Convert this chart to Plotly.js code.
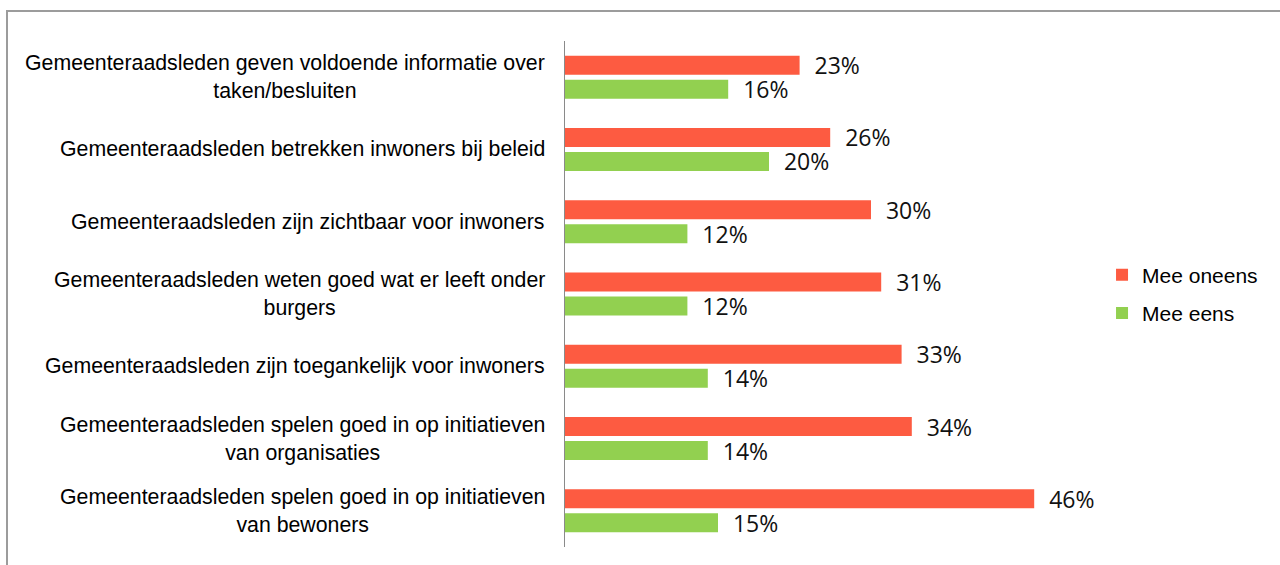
<!DOCTYPE html>
<html>
<head>
<meta charset="utf-8">
<script src="https://cdn.plot.ly/plotly-3.0.1.min.js"></script>
<style>
  html, body { margin: 0; padding: 0; background: #fff; overflow: hidden; }
  #wrap { position: relative; width: 1280px; height: 565px; }
  #chart { width: 1280px; height: 565px; }
  #frame { position: absolute; left: 6px; top: 10px; width: 1400px; height: 700px;
           border: 2px solid #9c9c9c; pointer-events: none; box-sizing: border-box; }
</style>
</head>
<body>
<div id="wrap">
  <div id="chart"></div>
  <div id="frame"></div>
</div>
<script>
// Categories (top to bottom)
const categories = [
  "Gemeenteraadsleden geven voldoende informatie over<br>taken/besluiten",
  "Gemeenteraadsleden betrekken inwoners bij beleid",
  "Gemeenteraadsleden zijn zichtbaar voor inwoners",
  "Gemeenteraadsleden weten goed wat er leeft onder<br>burgers",
  "Gemeenteraadsleden zijn toegankelijk voor inwoners",
  "Gemeenteraadsleden spelen goed in op initiatieven<br>van organisaties",
  "Gemeenteraadsleden spelen goed in op initiatieven<br>van bewoners"
];
const meeOneens = [23, 26, 30, 31, 33, 34, 46];
const meeEens   = [16, 20, 12, 12, 14, 14, 15];
const seriesNames = ["Mee oneens", "Mee eens"];

const NB = "\u00a0\u00a0";
const labelFont = { family: "Open Sans, sans-serif", size: 23, color: "#111" };

const traces = [
  {
    type: "bar", orientation: "h", name: seriesNames[0], legendgroup: "a",
    y: categories, x: meeOneens,
    marker: { color: "#FD5B41" },
    text: meeOneens.map(v => NB + v + "%"),
    textposition: "outside", textfont: labelFont, constraintext: "none",
    cliponaxis: false, hoverinfo: "skip"
  },
  {
    type: "bar", orientation: "h", name: seriesNames[1], legendgroup: "b",
    y: categories, x: meeEens,
    marker: { color: "#92D050" },
    text: meeEens.map(v => NB + v + "%"),
    textposition: "outside", textfont: labelFont, constraintext: "none",
    cliponaxis: false, hoverinfo: "skip"
  }
];

const annotations = categories.map(c => ({
  xref: "paper", yref: "y", x: 0, y: c, text: c,
  xanchor: "right", yanchor: "middle", align: "center", xshift: -18,
  showarrow: false,
  font: { family: "Liberation Sans, Arial, sans-serif", size: 21.3, color: "#000" }
}));

const layout = {
  width: 1280, height: 565,
  margin: { l: 565, r: 205, t: 41, b: 18 },
  paper_bgcolor: "rgba(0,0,0,0)", plot_bgcolor: "rgba(0,0,0,0)",
  barmode: "group", bargap: 0.336, bargroupgap: 0.208,
  showlegend: true,
  legend: {
    x: 1.053, xanchor: "left", y: 0.5, yanchor: "middle",
    traceorder: "grouped", tracegroupgap: 8,
    font: { family: "Liberation Sans, Arial, sans-serif", size: 21, color: "#000" },
    bgcolor: "rgba(0,0,0,0)"
  },
  xaxis: {
    range: [0, 50], showgrid: false, zeroline: false, showticklabels: false,
    showline: false, ticks: "", fixedrange: true
  },
  yaxis: {
    autorange: "reversed", showticklabels: false, showgrid: false, zeroline: false,
    showline: true, linecolor: "#8a8a8a", linewidth: 1.5, ticks: "", fixedrange: true
  },
  annotations: annotations
};

Plotly.newPlot("chart", traces, layout, { displayModeBar: false, staticPlot: true });
</script>
</body>
</html>
